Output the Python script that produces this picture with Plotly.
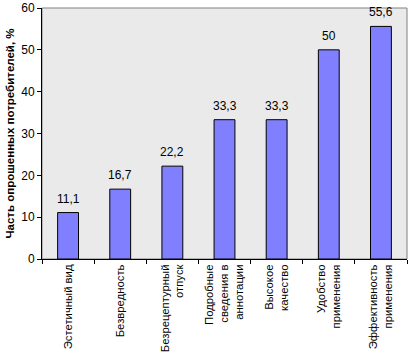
import plotly.graph_objects as go

categories = [
    "Эстетичный вид",
    "Безвредность",
    "Безрецептурный<br>отпуск",
    "Подробные<br>сведения в<br>аннотации",
    "Высокое<br>качество",
    "Удобство<br>применения",
    "Эффективность<br>применения",
]
values = [11.1, 16.7, 22.2, 33.3, 33.3, 50, 55.6]
value_labels = ["11,1", "16,7", "22,2", "33,3", "33,3", "50", "55,6"]
y_ticks = [0, 10, 20, 30, 40, 50, 60]

FONT = "Liberation Sans, Arial, sans-serif"
FS = 12

fig = go.Figure(
    go.Bar(
        x=categories,
        y=values,
        marker=dict(color="#8080FF", line=dict(color="black", width=1)),
        width=0.4,
    )
)

for c, v, t in zip(categories, values, value_labels):
    fig.add_annotation(x=c, y=v, text=t, showarrow=False, yanchor="bottom",
                       yshift=5, font=dict(family=FONT, size=FS, color="black"))

fig.update_layout(
    width=417,
    height=352,
    margin=dict(l=42, r=10, t=8, b=93),
    paper_bgcolor="white",
    plot_bgcolor="#EAEAEA",
    font=dict(family=FONT, size=FS, color="black"),
    showlegend=False,
    shapes=[
        dict(type="rect", xref="paper", yref="paper", x0=0, x1=1, y0=0, y1=1,
             line=dict(color="#808080", width=1), layer="below")
    ],
)
fig.update_xaxes(
    type="category",
    tickangle=-90,
    tickson="boundaries",
    ticks="outside",
    ticklen=4,
    tickcolor="black",
    showline=True,
    linecolor="black",
    linewidth=1,
    showgrid=False,
    automargin=False,
    tickfont=dict(family=FONT, size=11.3, color="black"),
)
fig.update_yaxes(
    range=[0, 60],
    tickvals=y_ticks,
    ticks="outside",
    ticklen=4,
    tickcolor="black",
    showline=True,
    linecolor="black",
    linewidth=1,
    showgrid=False,
    zeroline=False,
    automargin=False,
    tickfont=dict(family=FONT, size=FS, color="black"),
    title=dict(text="<b>Часть опрошенных потребителей, %</b>",
               font=dict(family=FONT, size=11.5, color="black"), standoff=4),
)

fig.write_html("out.html")
